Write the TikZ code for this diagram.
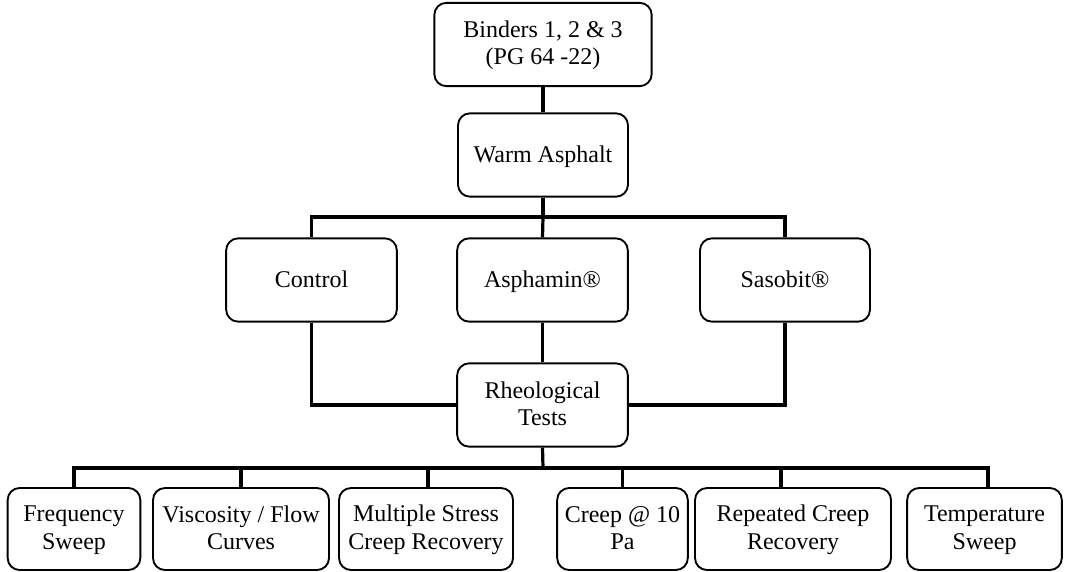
\documentclass[tikz,border=0pt]{standalone}
\usepackage{fontspec}
\setmainfont{Liberation Serif}
\newcommand\mystrut{\rule[-3pt]{0pt}{16.5pt}}
\newcommand\twoline[2]{\mystrut#1\\\mystrut#2}
\begin{document}
\begin{tikzpicture}[x=0.75pt,y=-0.75pt,
  box/.style={draw=black, line width=1.4pt, rounded corners=9pt, fill=white,
    align=center, inner sep=2pt, minimum height=62.5pt,
    font=\fontsize{18pt}{20.5pt}\selectfont},
  single/.style={text height=14pt, text depth=3pt},
  link/.style={draw=black, line width=2.4pt}]
\useasboundingbox (0,0) rectangle (1081,571);
% nodes
\node[box, minimum width=163pt] (bind) at (543,44.5) {\twoline{Binders 1, 2 \& 3}{(PG 64 -22)}};
\node[box, single, minimum width=127.5pt] (warm) at (543,155) {Warm Asphalt};
\node[box, single, minimum width=128pt] (ctrl) at (311.5,280) {Control};
\node[box, single, minimum width=128pt] (asph) at (542.5,280) {Asphamin®};
\node[box, single, minimum width=127.5pt] (saso) at (785,280) {Sasobit®};
\node[box, minimum width=128pt] (rheo) at (542.5,405) {\twoline{Rheological}{Tests}};
\node[box, minimum width=99.5pt, minimum height=61.5pt] (freq) at (74,529) {\twoline{Frequency}{Sweep}};
\node[box, minimum width=132pt, minimum height=61.5pt] (visc) at (241,529) {\twoline{Viscosity / Flow}{Curves}};
\node[box, minimum width=130.5pt, minimum height=61.5pt] (mult) at (426,529) {\twoline{Multiple Stress}{Creep Recovery}};
\node[box, minimum width=98pt, minimum height=61.5pt] (creep) at (622.5,529) {\twoline{Creep @ 10}{Pa}};
\node[box, minimum width=147pt, minimum height=61.5pt] (rep) at (793,529) {\twoline{Repeated Creep}{Recovery}};
\node[box, minimum width=116pt, minimum height=61.5pt] (temp) at (984.5,529) {\twoline{Temperature}{Sweep}};
% connectors
\coordinate (j1) at (543,217);
\coordinate (j2) at (543,468);
\draw[link] (bind.south) -- (warm.north);
\draw[link] (warm.south) -- (j1);
\draw[link] (j1) -| (ctrl.north);
\draw[link] (j1) -- (asph.north);
\draw[link] (j1) -| (saso.north);
\draw[link] (asph.south) -- (rheo.north);
\draw[link] (ctrl.south) |- (rheo.west);
\draw[link] (saso.south) |- (rheo.east);
\draw[link] (rheo.south) -- (j2);
\draw[link] (j2) -| (freq.north);
\draw[link] (j2) -| (visc.north);
\draw[link] (j2) -| ([xshift=1.5pt]mult.north);
\draw[link] (j2) -| (creep.north);
\draw[link] (j2) -| ([xshift=-9pt]rep.north);
\draw[link] (j2) -| ([xshift=2.6pt]temp.north);
\end{tikzpicture}
\end{document}
